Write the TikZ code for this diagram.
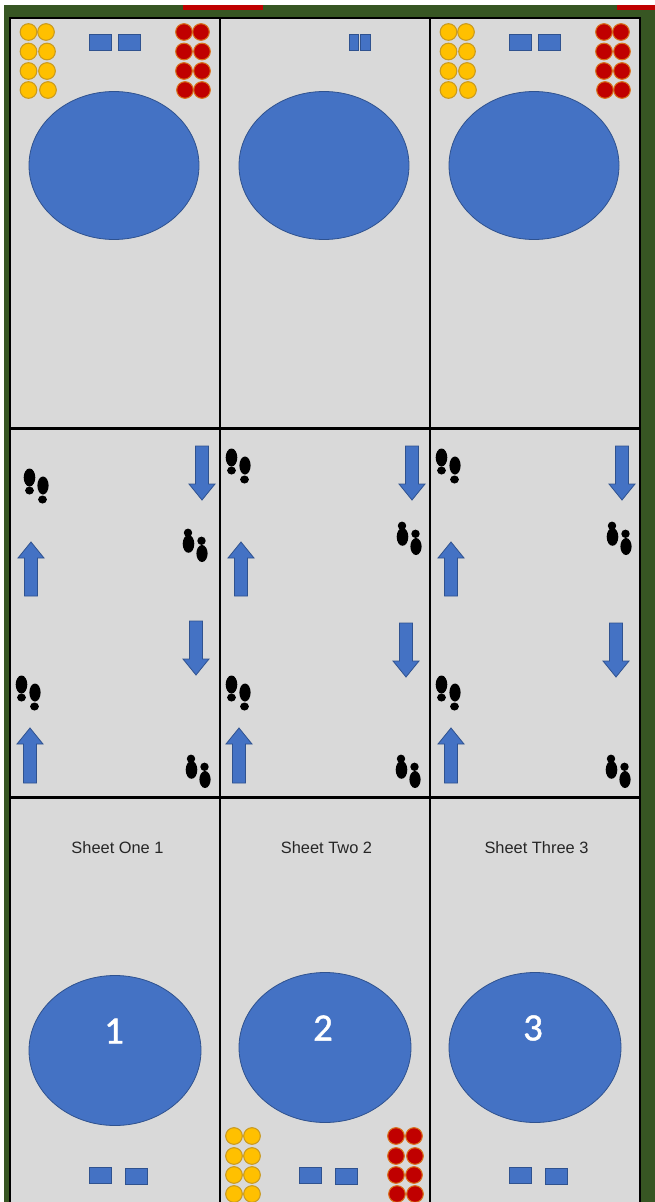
\documentclass[tikz,border=0pt]{standalone}
\usepackage{fontspec}
\setmainfont{Liberation Sans}
\newfontfamily\numfont[FakeBold=1.2]{Carlito}
\definecolor{bggreen}{HTML}{375623}
\definecolor{cellgray}{HTML}{D9D9D9}
\definecolor{blueA}{HTML}{4472C4}
\definecolor{blueE}{HTML}{2F528F}
\definecolor{yelF}{HTML}{FFC000}
\definecolor{yelE}{HTML}{C99A20}
\definecolor{redF}{HTML}{C00000}
\definecolor{redE}{HTML}{D8701A}
\definecolor{barred}{HTML}{C00000}
\usetikzlibrary{shapes.geometric}
\tikzset{
  x=0.75pt,y=-0.75pt,
  grid/.style={black,line width=1.6pt},
  blueshape/.style={fill=blueA,draw=blueE,line width=0.6pt},
  ycoin/.style={circle,fill=yelF,draw=yelE,line width=0.8pt,minimum size=12.5pt,inner sep=0pt},
  rcoin/.style={circle,fill=redF,draw=redE,line width=0.8pt,minimum size=12.5pt,inner sep=0pt},
  tile/.style={blueshape,minimum width=17pt,minimum height=12pt,inner sep=0pt},
  pool/.style={ellipse,blueshape,inner sep=0pt},
  sheetlabel/.style={font=\fontsize{12.3pt}{14pt}\selectfont,text=black!85,inner sep=0pt},
  numlabel/.style={font=\numfont\fontsize{29pt}{32pt}\selectfont,text=white,inner sep=0pt},
}
% pair of footprints: #1,#2 = top-left corner of the pair; large part on top
\newcommand{\stepsup}[2]{\begin{scope}[shift={(#1+1,#2)}]
  \fill[black] (4.5,7.5) ellipse[x radius=5.8,y radius=9];
  \fill[black] (4.5,20.5) ellipse[x radius=4.4,y radius=4];
  \fill[black] (18,15.5) ellipse[x radius=5.6,y radius=9];
  \fill[black] (17.5,29.5) ellipse[x radius=4.4,y radius=4];
\end{scope}}
% pair of footprints: small part on top
\newcommand{\stepsdown}[2]{\begin{scope}[shift={(#1+1,#2)}]
  \fill[black] (4,2.8) ellipse[x radius=4.2,y radius=4.2];
  \fill[black] (4.5,13.8) ellipse[x radius=5.8,y radius=9];
  \fill[black] (17.5,10.8) ellipse[x radius=4.2,y radius=4.2];
  \fill[black] (18,23.5) ellipse[x radius=5.6,y radius=8.5];
\end{scope}}
\newcommand{\arrdown}[3]{\draw[blueshape] (#1-6.5,#2) -- (#1+6.5,#2) -- (#1+6.5,#3-16) -- (#1+13,#3-16) -- (#1,#3) -- (#1-13,#3-16) -- (#1-6.5,#3-16) -- cycle;}
\newcommand{\arrup}[3]{\draw[blueshape] (#1-6.5,#3) -- (#1+6.5,#3) -- (#1+6.5,#2+16) -- (#1+13,#2+16) -- (#1,#2) -- (#1-13,#2+16) -- (#1-6.5,#2+16) -- cycle;}
\begin{document}
\begin{tikzpicture}
\useasboundingbox (0,0) rectangle (655,1202);
\fill[white] (0,0) rectangle (655,1202);
\fill[bggreen] (4,5) rectangle (655,1202);
\fill[barred] (183,5) rectangle (263,10);
\fill[barred] (617,5) rectangle (655,10);
\fill[cellgray] (10,18) rectangle (640,1202);
% coins
\foreach \xo/\yo/\na in {0/0/a,420/0/c}{
  \foreach \y/\xa/\xb/\xc/\xd [count=\i] in {32/28.5/46/184/201,51.5/28.5/47/184/202,71/28.5/47/184/202,90/28.5/48/185/202}{
    \node[ycoin] (y\na\i l) at (\xo+\xa,\y) {};
    \node[ycoin] (y\na\i r) at (\xo+\xb,\y) {};
    \node[rcoin] (r\na\i l) at (\xo+\xc,\y) {};
    \node[rcoin] (r\na\i r) at (\xo+\xd,\y) {};
  }
}
\foreach \y/\xa/\xb/\xc/\xd [count=\i] in {1136/234/252/396/414,1156/234/252/396/415,1175/234/252/396/414,1194/234/252/397/415}{
  \node[ycoin] (yb\i l) at (\xa,\y) {};
  \node[ycoin] (yb\i r) at (\xb,\y) {};
  \node[rcoin] (rb\i l) at (\xc,\y) {};
  \node[rcoin] (rb\i r) at (\xd,\y) {};
}
% tiles
\node[tile] (t1a) at (100.5,42) {};
\node[tile] (t1b) at (129.5,42) {};
\node[tile,minimum width=6.5pt] (t2a) at (354,42) {};
\node[tile,minimum width=7.5pt] (t2b) at (365,42) {};
\node[tile] (t3a) at (520.5,42) {};
\node[tile] (t3b) at (549.5,42) {};
\node[tile] (b1a) at (100.5,1175) {};
\node[tile] (b1b) at (136.5,1176) {};
\node[tile] (b2a) at (310.5,1175) {};
\node[tile] (b2b) at (346.5,1176) {};
\node[tile] (b3a) at (520.5,1175) {};
\node[tile] (b3b) at (556.5,1176) {};
% pools
\node[pool,minimum width=127.5pt,minimum height=111pt] (p1) at (114,165.5) {};
\node[pool,minimum width=127.5pt,minimum height=111pt] (p2) at (324,165.5) {};
\node[pool,minimum width=127.5pt,minimum height=111pt] (p3) at (534,165.5) {};
\node[pool,minimum width=129pt,minimum height=112.5pt] (q1) at (115,1050.5) {};
\node[pool,minimum width=129pt,minimum height=112.5pt] (q2) at (325,1047.5) {};
\node[pool,minimum width=129pt,minimum height=112.5pt] (q3) at (535,1047.5) {};
\node[numlabel] (n1) at (114,1031) {1};
\node[numlabel] (n2) at (323,1028) {2};
\node[numlabel] (n3) at (533,1028) {3};
% arrows
\arrdown{202}{446}{500}\arrup{31}{542}{596}\arrdown{196}{621}{675}\arrup{30}{728}{783}
\arrdown{412}{446}{500}\arrup{241}{542}{596}\arrdown{406}{623}{677}\arrup{239}{728}{783}
\arrdown{622}{446}{500}\arrup{451}{542}{596}\arrdown{616}{623}{677}\arrup{451}{728}{783}
% footprints
\stepsup{24}{470}\stepsdown{183}{530}\stepsup{16}{677}\stepsdown{186}{756}
\stepsup{226}{450}\stepsdown{397}{523}\stepsup{226}{677}\stepsdown{396}{756}
\stepsup{436}{450}\stepsdown{607}{523}\stepsup{436}{677}\stepsdown{606}{756}
% labels
\node[sheetlabel] (s1) at (117.5,848) {Sheet One 1};
\node[sheetlabel] (s2) at (326.5,848) {Sheet Two 2};
\node[sheetlabel] (s3) at (536.5,848) {Sheet Three 3};
% grid
\draw[grid] (10,1202) -- (10,18) -- (640,18) -- (640,1202);
\draw[grid] (220,18) -- (220,1202);
\draw[grid] (430,18) -- (430,1202);
\draw[grid] (10,428.5) -- (640,428.5);
\draw[grid] (10,797.5) -- (640,797.5);
\end{tikzpicture}
\end{document}
